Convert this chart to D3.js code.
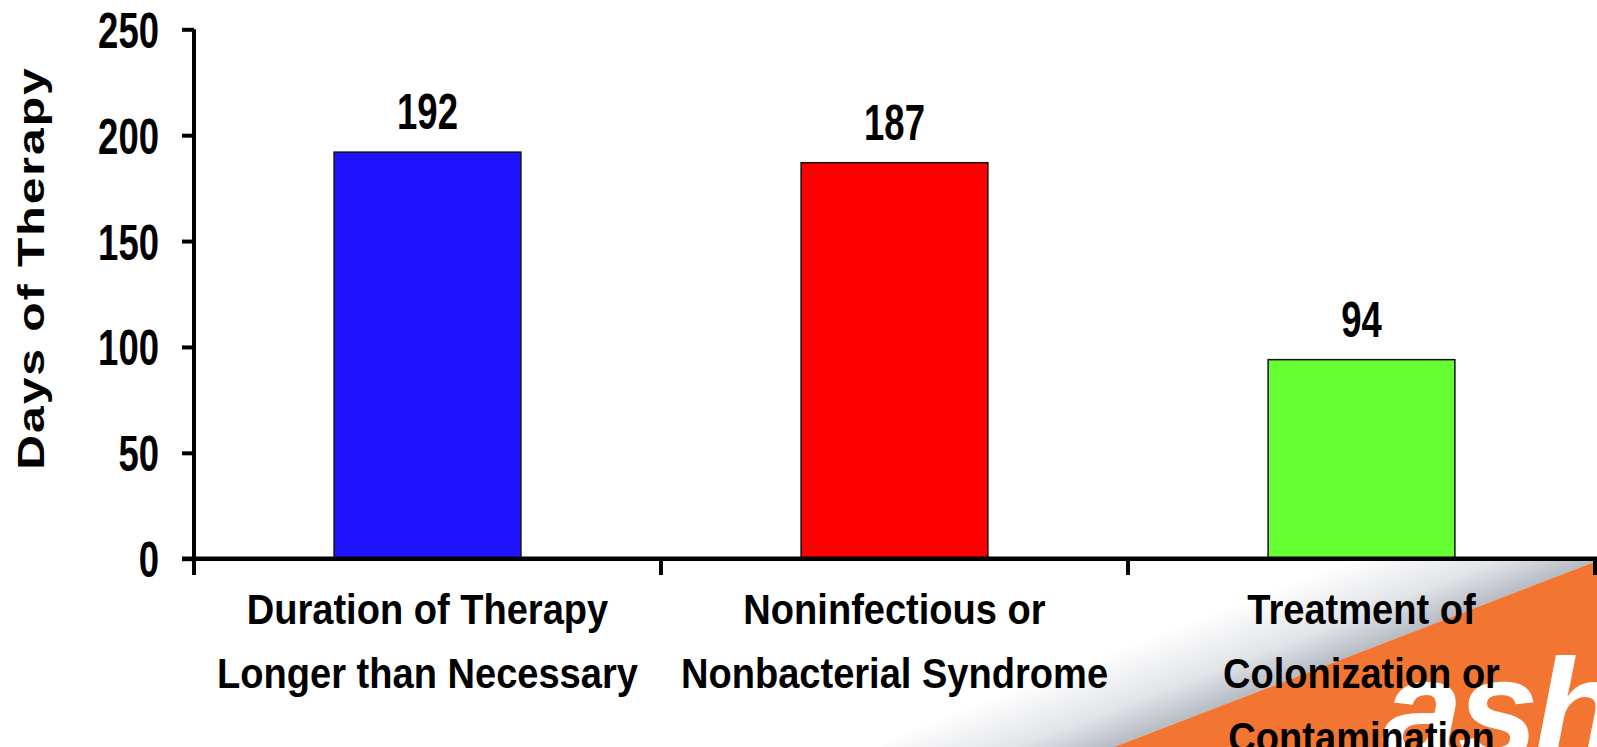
<!DOCTYPE html>
<html>
<head>
<meta charset="utf-8">
<script src="https://cdn.jsdelivr.net/npm/d3@7"></script>
<style>
  html, body { margin: 0; padding: 0; background: #fff; }
  svg { display: block; }
  .narrow { font-family: "Liberation Sans", Arial, sans-serif; font-weight: bold; }
</style>
</head>
<body>
<svg id="chart" width="1597" height="747"></svg>
<script>
const categories = [
  ["Duration of Therapy", "Longer than Necessary"],
  ["Noninfectious or", "Nonbacterial Syndrome"],
  ["Treatment of", "Colonization or", "Contamination"]
];
const values = [192, 187, 94];
const barColors = ["#1F14FF", "#FF0000", "#66FF33"];
const yTicks = [0, 50, 100, 150, 200, 250];
const yTitle = "Days of Therapy";

const W = 1597, H = 747;
const svg = d3.select("#chart");
const numScale = 0.73, catScale = 0.885;

// decorative logo (bottom-right)
const defs = svg.append("defs");
const nx = -0.359, ny = -0.933;
const gx = 1400, gy0 = 733 - 0.385 * 250;
const grad = defs.append("linearGradient").attr("id", "fade")
  .attr("gradientUnits", "userSpaceOnUse")
  .attr("x1", gx).attr("y1", gy0)
  .attr("x2", gx + nx * 90).attr("y2", gy0 + ny * 90);
grad.append("stop").attr("offset", "0").attr("stop-color", "#b6bbc4");
grad.append("stop").attr("offset", "0.4").attr("stop-color", "#e2e4e8");
grad.append("stop").attr("offset", "1").attr("stop-color", "#ffffff");
svg.append("path")
  .attr("d", "M880,747 L1114,747 L1597,561 L1230,561 Z")
  .attr("fill", "url(#fade)");
svg.append("path")
  .attr("d", "M1114,747 L1597,561 L1597,747 Z")
  .attr("fill", "#F27531");
svg.append("text")
  .attr("x", 1382).attr("y", 760)
  .attr("font-family", "Liberation Sans, Arial, sans-serif")
  .attr("font-weight", "bold").attr("font-style", "italic")
  .attr("font-size", 145).attr("letter-spacing", -5)
  .attr("fill", "#ffffff")
  .text("ash");

const y = d3.scaleLinear().domain([0, 250]).range([558.7, 29.3]);
const x = d3.scaleBand().domain(d3.range(values.length))
  .range([194, 1595]).paddingInner(0.6).paddingOuter(0.3);

// bars
svg.append("g").selectAll("rect").data(values).join("rect")
  .attr("x", (d, i) => x(i))
  .attr("y", d => y(d))
  .attr("width", x.bandwidth())
  .attr("height", d => y(0) - y(d))
  .attr("fill", (d, i) => barColors[i])
  .attr("stroke", "#111").attr("stroke-width", 1.5);

// value labels
svg.append("g").selectAll("text").data(values).join("text")
  .attr("class", "narrow")
  .attr("transform", (d, i) => `translate(${x(i) + x.bandwidth() / 2},${y(d) - 23}) scale(${numScale},1)`)
  .attr("text-anchor", "middle")
  .attr("font-size", 50)
  .attr("fill", "#000")
  .text(d => d);

// y axis
const yAxis = d3.axisLeft(y).tickValues(yTicks).tickSize(12).tickPadding(22).tickSizeOuter(0);
const gyAx = svg.append("g").attr("transform", "translate(194,0)").call(yAxis);
gyAx.select(".domain").remove();
gyAx.selectAll(".tick line").attr("stroke", "#000").attr("stroke-width", 4);
gyAx.selectAll(".tick text").attr("class", "narrow").attr("font-size", 50)
  .attr("fill", "#000").attr("x", 0).attr("dy", "0.36em")
  .attr("text-anchor", "end")
  .attr("transform", `translate(-35,0) scale(${numScale},1)`);
svg.append("line").attr("x1", 194).attr("x2", 194)
  .attr("y1", y(250)).attr("y2", 575)
  .attr("stroke", "#000").attr("stroke-width", 4);

// x axis
svg.append("line").attr("x1", 182).attr("x2", 1597)
  .attr("y1", y(0)).attr("y2", y(0))
  .attr("stroke", "#000").attr("stroke-width", 4.5);
const bounds = d3.range(values.length + 1).map(i => x.range()[0] + i * x.step());
svg.append("g").selectAll("line").data(bounds).join("line")
  .attr("x1", d => Math.min(d, 1595)).attr("x2", d => Math.min(d, 1595))
  .attr("y1", y(0)).attr("y2", 575)
  .attr("stroke", "#000").attr("stroke-width", 4);

// category labels
const lab = svg.append("g").selectAll("text").data(categories).join("text")
  .attr("class", "narrow")
  .attr("text-anchor", "middle")
  .attr("transform", (d, i) => `translate(${x(i) + x.bandwidth() / 2},0) scale(${catScale},1)`)
  .attr("font-size", 43)
  .attr("fill", "#000");
lab.each(function(lines) {
  const t = d3.select(this);
  lines.forEach((ln, j) => {
    t.append("tspan")
      .attr("x", 0)
      .attr("y", 624 + j * 64)
      .text(ln);
  });
});

// y title
svg.append("text")
  .attr("transform", "translate(44,268) rotate(-90) scale(1.3,1)")
  .attr("text-anchor", "middle")
  .attr("font-family", "Liberation Sans, Arial, sans-serif")
  .attr("font-weight", "bold")
  .attr("font-size", 37)
  .attr("letter-spacing", 1.5)
  .attr("fill", "#000")
  .text(yTitle);
</script>
</body>
</html>
